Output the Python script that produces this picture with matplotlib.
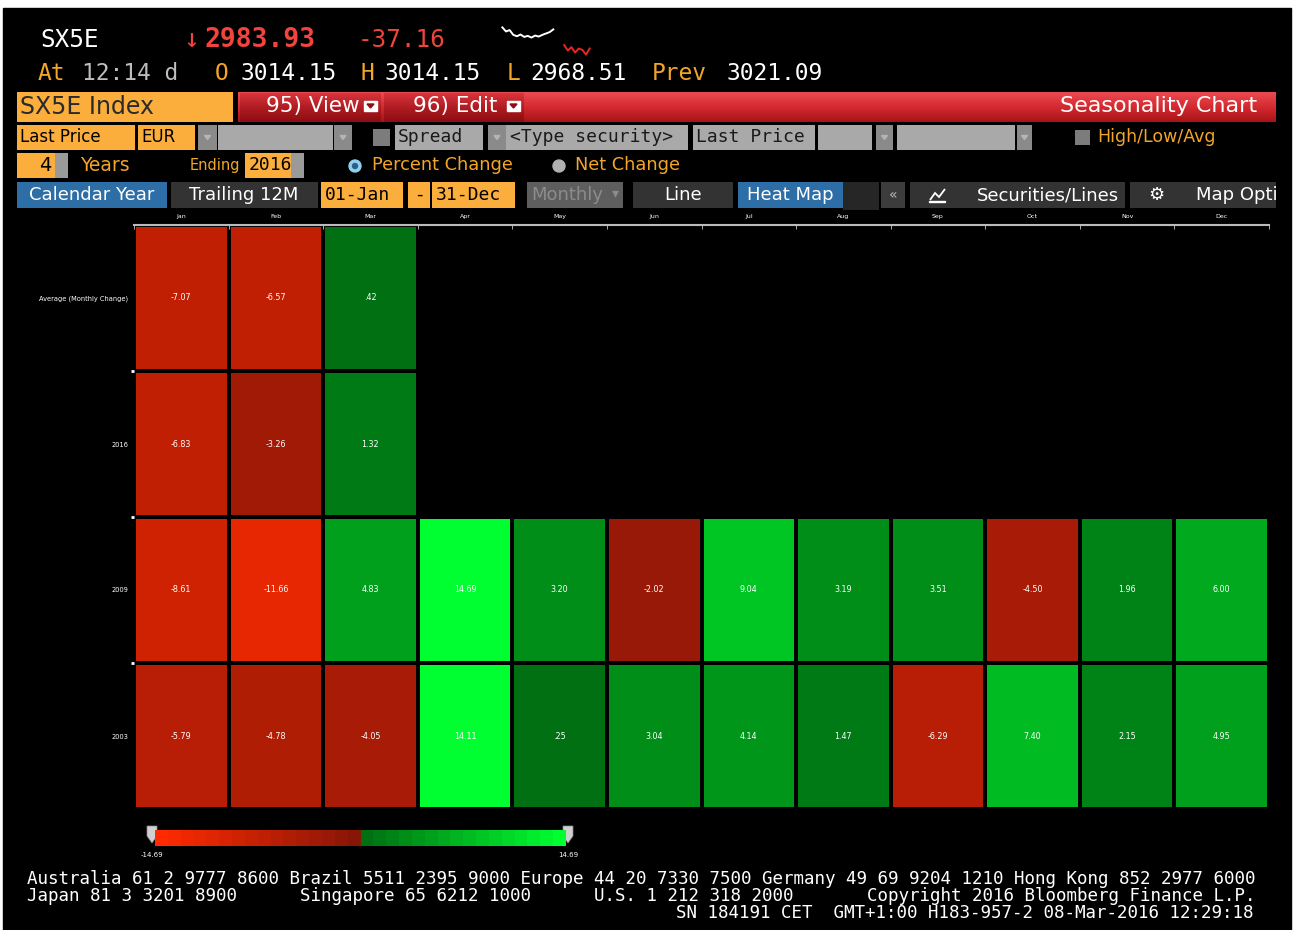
import matplotlib
matplotlib.use("Agg")
import matplotlib.pyplot as plt
import numpy as np
from matplotlib.colors import ListedColormap, Normalize, LinearSegmentedColormap
from matplotlib.cm import ScalarMappable
from matplotlib.patches import Rectangle, Polygon, Circle

# ---- data ----
months = ["Jan", "Feb", "Mar", "Apr", "May", "Jun",
          "Jul", "Aug", "Sep", "Oct", "Nov", "Dec"]
row_labels = ["Average (Monthly Change)", "2016", "2009", "2003"]
nan = np.nan
avg_change = [-7.07, -6.57, 0.42, nan, nan, nan, nan, nan, nan, nan, nan, nan]
y2016 = [-6.83, -3.26, 1.32, nan, nan, nan, nan, nan, nan, nan, nan, nan]
y2009 = [-8.61, -11.66, 4.83, 14.69, 3.20, -2.02, 9.04, 3.19, 3.51, -4.50, 1.96, 6.00]
y2003 = [-5.79, -4.78, -4.05, 14.11, 0.25, 3.04, 4.14, 1.47, -6.29, 7.40, 2.15, 4.95]
scale_min, scale_max = -14.69, 14.69

# intraday sparkline in the quote header
spark_prev = [3052, 3040, 3044, 3030, 3026, 3031, 3024, 3027, 3022, 3028, 3025, 3030, 3034, 3038, 3046]
spark_today = [3000, 2984, 2994, 2978, 2990, 2986, 2972, 2990]

footer = [
    "Australia 61 2 9777 8600 Brazil 5511 2395 9000 Europe 44 20 7330 7500 Germany 49 69 9204 1210 Hong Kong 852 2977 6000",
    "Japan 81 3 3201 8900      Singapore 65 6212 1000      U.S. 1 212 318 2000       Copyright 2016 Bloomberg Finance L.P.",
    "SN 184191 CET  GMT+1:00 H183-957-2 08-Mar-2016 12:29:18",
]

# ---- colours ----
ORANGE = "#fbae3c"
ORANGE_TXT = "#f3a52a"
RED_TXT = "#f0443c"
GRAY = "#a9a9a9"
DROP = "#8a8a8a"
DARK = "#333333"
BLUE = "#2d6ea6"

steps = 16
reds = np.linspace([0xff, 0x2a, 0x00], [0x88, 0x16, 0x08], steps) / 255
greens = np.linspace([0x00, 0x70, 0x12], [0x00, 0xff, 0x30], steps) / 255
cmap = ListedColormap(np.vstack([reds, greens]))
norm = Normalize(scale_min, scale_max)

W, H = 1297, 930
fig = plt.figure(figsize=(W / 100, H / 100), dpi=100, facecolor="white")

# full-figure axis in pixel units for the terminal chrome
ui = fig.add_axes([0, 0, 1, 1])
ui.axis("off")
ui.add_patch(Rectangle((3, 8), 1288, 922, color="black"))

MONO = "DejaVu Sans Mono"


def box(x0, x1, y0, y1, color, **kw):
    p = Rectangle((x0, y0), x1 - x0, y1 - y0, facecolor=color, edgecolor="none", **kw)
    ui.add_patch(p)
    return p


def txt(x, y, s, color="white", size=13, ha="left", **kw):
    return ui.text(x, y, s, color=color, fontsize=size, ha=ha, va="center", **kw)


def dropdown(x0, x1, y0, y1):
    box(x0, x1, y0, y1, DROP)
    cx, cy = (x0 + x1) / 2, (y0 + y1) / 2
    ui.add_patch(Polygon([(cx - 3, cy - 2), (cx + 3, cy - 2), (cx, cy + 2)], color="#b5b5b5"))


# quote lines
txt(40, 40, "SX5E", size=17.5, family=MONO)
txt(183, 40, "↓", color=RED_TXT, size=19, family=MONO)
txt(204, 40, "2983.93", color=RED_TXT, size=19, family=MONO, weight="bold")
txt(358, 40, "-37.16", color=RED_TXT, size=17.5, family=MONO)

spark = fig.add_axes([498 / W, 1 - 56 / H, 96 / W, 30 / H])
spark.axis("off")
n1 = len(spark_prev)
spark.plot(range(n1), spark_prev, color="white", lw=1.4)
spark.plot(range(n1 + 2, n1 + 2 + len(spark_today)), spark_today, color="#e8281e", lw=1.4)

row2 = [(38, "At", ORANGE_TXT), (82, "12:14 d", "#bdbdbd"), (215, "O", ORANGE_TXT),
        (240, "3014.15", "white"), (360, "H", ORANGE_TXT), (385, "3014.15", "white"),
        (507, "L", ORANGE_TXT), (530, "2968.51", "white"), (652, "Prev", ORANGE_TXT),
        (727, "3021.09", "white")]
for x, s, c in row2:
    txt(x, 73, s, color=c, size=16.5, family=MONO)

# title bar
box(17, 233, 92, 122, ORANGE)
txt(20, 107, "SX5E Index", color="#2a2a2a", size=17)
grad = np.linspace(0, 1, 30).reshape(-1, 1)
bar_cmap = LinearSegmentedColormap.from_list("bar", ["#ec4a52", "#d42a30", "#a81418"])
btn_cmap = LinearSegmentedColormap.from_list("btn", ["#d8343c", "#b01c22", "#8c0e12"])
ui.imshow(grad, cmap=bar_cmap, extent=(238, 1276, 122, 92), aspect="auto", zorder=1)
for x0, x1 in [(240, 381), (384, 524)]:
    ui.imshow(grad, cmap=btn_cmap, extent=(x0, x1, 122, 93), aspect="auto", zorder=2)
ui.set_xlim(0, W)
ui.set_ylim(H, 0)
txt(266, 106, "95) View", size=15.5, zorder=3)
txt(413, 106, "96) Edit", size=15.5, zorder=3)
for x in (364, 507):
    ui.add_patch(Rectangle((x, 101), 13, 10, color="white", zorder=3))
    ui.add_patch(Polygon([(x + 3, 104), (x + 10, 104), (x + 6.5, 108)], color="#8c0e12", zorder=4))
txt(1257, 106, "Seasonality Chart", size=16, ha="right", zorder=3)

# selector row
box(17, 135, 125, 150, ORANGE)
txt(20, 137.5, "Last Price", color="black", size=12)
box(138, 195, 125, 150, ORANGE)
txt(141, 137.5, "EUR", color="black", size=12)
dropdown(198, 217, 125, 150)
box(218, 333, 125, 150, GRAY)
dropdown(334, 352, 125, 150)
box(373, 390, 129, 146, "#7c7c7c")
box(395, 483, 125, 150, GRAY)
txt(398, 137.5, "Spread", color="#1a1a1a", size=13, family=MONO)
dropdown(488, 506, 125, 150)
box(506, 688, 125, 150, GRAY)
txt(510, 137.5, "<Type security>", color="#1a1a1a", size=13, family=MONO)
box(693, 815, 125, 150, GRAY)
txt(696, 137.5, "Last Price", color="#1a1a1a", size=13, family=MONO)
box(818, 872, 125, 150, GRAY)
dropdown(876, 893, 125, 150)
box(897, 1015, 125, 150, GRAY)
dropdown(1017, 1032, 125, 150)
box(1075, 1090, 130, 145, "#7c7c7c")
txt(1097, 137.5, "High/Low/Avg", color=ORANGE_TXT, size=12.5)

# years / change-type row
box(17, 55, 153, 178, ORANGE)
txt(51, 165.5, "4", color="black", size=14, ha="right")
box(55, 68, 153, 178, "#9a9a9a")
txt(80, 165.5, "Years", color=ORANGE_TXT, size=13.5)
txt(240, 165.5, "Ending", color=ORANGE_TXT, size=10.5, ha="right")
box(245, 291, 153, 178, ORANGE)
txt(249, 165.5, "2016", color="black", size=13, family=MONO)
box(291, 304, 153, 178, "#9a9a9a")
ui.add_patch(Circle((355, 166), 6, color="#8fd0ee"))
ui.add_patch(Circle((355, 166), 2.5, color="#2a5f86"))
txt(372, 164.5, "Percent Change", color=ORANGE_TXT, size=12.8)
ui.add_patch(Circle((559, 166), 6, color="#b0b0b0"))
txt(575, 164.5, "Net Change", color=ORANGE_TXT, size=12.8)

# view buttons row
box(17, 167, 182, 208, BLUE)
txt(92, 195, "Calendar Year", size=13, ha="center")
box(171, 318, 182, 208, DARK)
txt(244, 195, "Trailing 12M", size=13, ha="center")
box(321, 403, 182, 208, ORANGE)
txt(325, 195, "01-Jan", color="black", size=13, family=MONO)
box(408, 430, 182, 208, ORANGE)
txt(419, 195, "-", color="black", size=13, ha="center")
box(432, 515, 182, 208, ORANGE)
txt(436, 195, "31-Dec", color="black", size=13, family=MONO)
box(527, 623, 182, 208, "#5e5e5e")
txt(531, 195, "Monthly", color="#8c8c8c", size=13)
txt(612, 193, "▾", color="#8c8c8c", size=10)
box(633, 733, 182, 208, DARK)
txt(683, 195, "Line", size=13, ha="center")
box(738, 843, 182, 208, BLUE)
txt(790, 195, "Heat Map", size=13, ha="center")
box(843, 879, 182, 210, "#262626")
box(881, 905, 182, 208, "#3c3c3c")
txt(893, 195, "«", color="#bbbbbb", size=10, ha="center")
box(910, 1125, 182, 208, DARK)
# small chart icon on the Securities/Lines button
ui.add_patch(Polygon([(930, 200), (935, 193), (939, 197), (945, 189)], closed=False,
                     fill=False, edgecolor="white", lw=1.3))
ui.add_patch(Rectangle((929, 201), 16, 1.2, color="white"))
txt(977, 195, "Securities/Lines", size=13)
mo = box(1130, 1276, 182, 208, DARK)
txt(1156, 195, "⚙", size=13, ha="center")
t = txt(1196, 195, "Map Options", size=13, clip_on=True)
t.set_clip_path(mo)

# ---- heat map ----
data = np.ma.masked_invalid(np.array([avg_change, y2016, y2009, y2003]))
ax = fig.add_axes([134 / W, 1 - 809 / H, 1135 / W, 584 / H], facecolor="black")
ax.pcolormesh(data, cmap=cmap, norm=norm, edgecolors="black", linewidth=1.5)
ax.set_xlim(0, 12)
ax.set_ylim(4, 0)


def fmt(v):
    s = "%.2f" % v
    return s.replace("0.", ".", 1) if abs(v) < 1 else s


for i in range(data.shape[0]):
    for j in range(data.shape[1]):
        if not data.mask[i, j]:
            ax.text(j + 0.5, i + 0.5, fmt(data[i, j]), color="white",
                    fontsize=5.8, ha="center", va="center")

ax.xaxis.tick_top()
ax.set_xticks(np.arange(12) + 0.5)
ax.set_xticklabels(months, color="white", fontsize=4.5)
ax.set_xticks(np.arange(13), minor=True)
ax.set_yticks(np.arange(4) + 0.5)
ax.set_yticklabels(row_labels, color="white", fontsize=4.8)
ax.set_yticks(np.arange(1, 4), minor=True)
ax.tick_params(axis="both", which="major", length=0, pad=4)
ax.tick_params(axis="x", which="minor", direction="in", length=3, color="#cccccc", top=True)
ax.tick_params(axis="y", which="minor", direction="out", length=2, width=2, color="white")
for side in ("left", "right", "bottom"):
    ax.spines[side].set_visible(False)
ax.spines["top"].set_color("#bbbbbb")
ax.spines["top"].set_linewidth(1.5)

# ---- colour scale ----
cax = fig.add_axes([155 / W, 1 - 846 / H, 411 / W, 16 / H])
cb = fig.colorbar(ScalarMappable(norm=norm, cmap=cmap), cax=cax, orientation="horizontal")
cb.outline.set_visible(False)
cax.set_xticks([])
for x in (152, 568):
    ui.add_patch(Polygon([(x - 5, 826), (x + 5, 826), (x + 5, 836), (x, 843), (x - 5, 836)],
                         facecolor="#d0d0d0", edgecolor="#888888", lw=0.5, zorder=5))
ui.text(152, 855, "%.2f" % scale_min, color="white", fontsize=5, ha="center", va="center")
ui.text(568, 855, "%.2f" % scale_max, color="white", fontsize=5, ha="center", va="center")

# ---- footer ----
txt(27, 879, footer[0], size=12.6, family=MONO)
txt(27, 896, footer[1], size=12.6, family=MONO)
txt(1254, 913, footer[2], size=12.6, family=MONO, ha="right")

fig.savefig("out.png", dpi=100, facecolor=fig.get_facecolor())
